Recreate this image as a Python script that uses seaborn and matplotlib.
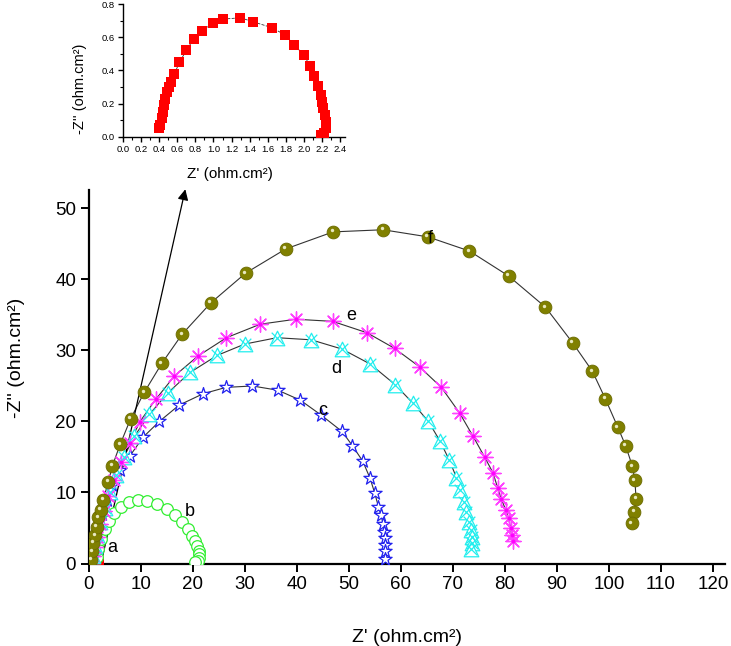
import matplotlib
matplotlib.use("Agg")
import matplotlib.pyplot as plt
from matplotlib.transforms import offset_copy
import seaborn as sns

# Nyquist data, Z' and -Z'' in ohm.cm2
a_x = [0.40, 0.41, 0.43, 0.44, 0.456, 0.47, 0.486, 0.51, 0.53, 0.57, 0.625, 0.70, 0.78,
       0.873, 0.99, 1.11, 1.296, 1.436, 1.646, 1.79, 1.89, 2.0, 2.06, 2.11, 2.15, 2.18,
       2.20, 2.21, 2.23, 2.235, 2.235, 2.22, 2.19]
a_y = [0.05, 0.07, 0.11, 0.15, 0.19, 0.23, 0.27, 0.30, 0.33, 0.38, 0.448, 0.52, 0.587,
       0.637, 0.683, 0.709, 0.717, 0.693, 0.657, 0.613, 0.552, 0.492, 0.428, 0.366, 0.305,
       0.251, 0.211, 0.17, 0.131, 0.09, 0.05, 0.02, 0.01]

b_x = [1.6, 1.9, 2.4, 3.1, 3.9, 4.9, 6.2, 7.8, 9.6, 11.3, 13.2, 15.0, 16.6, 17.9, 19.1,
       19.9, 20.5, 20.9, 21.2, 21.3, 21.3, 21.1, 20.5]
b_y = [0.9, 2.1, 3.5, 4.8, 6.0, 7.1, 8.0, 8.6, 8.9, 8.8, 8.4, 7.7, 6.8, 5.8, 4.8, 3.9,
       3.1, 2.4, 1.8, 1.3, 0.8, 0.4, 0.2]

c_x = [0.6, 0.9, 1.3, 1.9, 2.6, 3.5, 4.6, 6.1, 7.9, 10.5, 13.6, 17.4, 22.0, 26.4, 31.5,
       36.4, 40.7, 44.7, 48.7, 50.7, 52.7, 54.1, 55.0, 55.7, 56.2, 56.6, 56.8, 57.0, 57.0,
       57.0, 56.9]
c_y = [0.8, 2.1, 3.6, 5.2, 7.0, 9.0, 11.0, 13.2, 15.1, 17.8, 20.0, 22.3, 23.9, 24.8, 25.0,
       24.4, 23.0, 20.9, 18.6, 16.6, 14.4, 12.0, 9.9, 8.0, 6.8, 5.6, 4.5, 3.6, 2.6, 1.7, 0.7]

d_x = [0.9, 1.2, 1.7, 2.3, 3.1, 4.1, 5.3, 6.8, 8.8, 11.7, 15.2, 19.5, 24.7, 30.0, 36.2,
       42.8, 48.7, 54.1, 58.9, 62.3, 65.3, 67.5, 69.3, 70.7, 71.4, 72.1, 72.6, 73.1, 73.5,
       73.7, 73.7, 73.5]
d_y = [1.1, 2.4, 4.0, 5.8, 7.8, 10.0, 12.4, 15.0, 17.9, 21.0, 24.0, 26.9, 29.3, 30.9, 31.8,
       31.5, 30.2, 28.1, 25.2, 22.6, 20.0, 17.3, 14.6, 12.1, 10.4, 8.7, 7.3, 5.9, 4.7, 3.8,
       2.9, 2.1]

e_x = [0.9, 1.2, 1.6, 2.2, 2.9, 3.8, 4.9, 6.2, 7.9, 9.8, 12.9, 16.5, 21.0, 26.5, 33.0,
       39.8, 46.9, 53.5, 58.8, 63.6, 67.8, 71.3, 73.9, 76.1, 77.7, 78.6, 79.3, 80.2, 80.7,
       81.1, 81.3, 81.6]
e_y = [1.0, 2.3, 3.8, 5.5, 7.4, 9.5, 11.8, 14.3, 16.9, 19.9, 23.1, 26.4, 29.2, 31.8, 33.7,
       34.4, 34.1, 32.5, 30.3, 27.7, 24.8, 21.2, 17.9, 15.0, 12.8, 10.7, 9.1, 7.5, 6.4, 5.0,
       4.0, 3.2]

f_x = [0.48, 0.67, 0.92, 1.25, 1.58, 1.88, 2.35, 2.85, 3.8, 4.6, 6.1, 8.1, 10.7, 14.1,
       18.0, 23.5, 30.2, 37.9, 47.0, 56.6, 65.2, 73.2, 80.7, 87.8, 93.0, 96.8, 99.3, 101.7,
       103.2, 104.5, 105.0, 105.2, 104.9, 104.4]
f_y = [0.5, 1.7, 2.9, 4.0, 5.2, 6.5, 7.6, 9.0, 11.5, 13.8, 16.8, 20.4, 24.1, 28.2, 32.3,
       36.7, 40.9, 44.3, 46.7, 47.0, 46.0, 44.0, 40.5, 36.1, 31.1, 27.1, 23.2, 19.2, 16.6,
       13.7, 11.7, 9.1, 7.3, 5.7]

curve_labels = ["a", "b", "c", "d", "e", "f"]
label_pos = [(4.5, 2.2), (19.5, 7.3), (45.1, 21.6), (47.6, 27.5), (50.5, 34.9), (65.7, 45.8)]

LINE = "#333333"


def draw_line(ax, x, y, lw=0.8, ls="-"):
    sns.lineplot(x=x, y=y, sort=False, estimator=None, color=LINE, lw=lw,
                 linestyle=ls, ax=ax, zorder=1)


def main() -> None:
    sns.set_style("ticks")
    plt.rcParams["font.family"] = ["Liberation Sans", "DejaVu Sans"]
    plt.rcParams.update({
        "axes.edgecolor": "black",
        "xtick.color": "black",
        "ytick.color": "black",
        "text.color": "black",
        "axes.labelcolor": "black",
    })

    fig = plt.figure(figsize=(7.31, 6.46), dpi=100)
    ax = fig.add_axes([0.1211, 0.1277, 0.8707, 0.5782])

    for x, y in [(b_x, b_y), (c_x, c_y), (d_x, d_y), (e_x, e_y), (f_x, f_y)]:
        draw_line(ax, x, y)

    sns.scatterplot(x=a_x, y=a_y, marker="s", s=30, color="#ff0000", linewidth=0,
                    ax=ax, zorder=3)
    sns.scatterplot(x=b_x, y=b_y, marker="o", s=70, facecolor="white",
                    edgecolor="#33ee33", linewidth=0.9, ax=ax, zorder=3)
    sns.scatterplot(x=c_x, y=c_y, marker="*", s=100, facecolor="white",
                    edgecolor="#2222ee", linewidth=0.9, ax=ax, zorder=3)
    sns.scatterplot(x=d_x, y=d_y, marker="^", s=110, facecolor="white",
                    edgecolor="#22eeee", linewidth=0.9, ax=ax, zorder=3)
    sns.scatterplot(x=d_x, y=d_y, marker="x", s=70, color="#22eeee",
                    linewidth=0.9, ax=ax, zorder=4)
    sns.scatterplot(x=e_x, y=e_y, marker=(8, 2, 0), s=120, color="#ff44ff",
                    linewidth=1.0, ax=ax, zorder=3)
    sns.scatterplot(x=e_x, y=e_y, marker="o", s=8, color="#ff00ff",
                    linewidth=0, ax=ax, zorder=4)
    sns.scatterplot(x=f_x, y=f_y, marker="o", s=85, color="#808000",
                    edgecolor="#6b6b00", linewidth=0.6, ax=ax, zorder=5)
    shine = offset_copy(ax.transData, fig=fig, x=-1.5, y=1.5, units="dots")
    ax.scatter(f_x, f_y, marker="o", s=6, color="#e8e8c0", linewidth=0,
               transform=shine, zorder=6)

    for lab, (lx, ly) in zip(curve_labels, label_pos):
        ax.text(lx, ly, lab, fontsize=13, ha="center", va="center", zorder=7)

    ax.annotate("", xy=(18.6, 52.7), xytext=(2.4, 0.0),
                arrowprops=dict(arrowstyle="-|>", color="black", lw=0.9,
                                mutation_scale=16, shrinkA=0, shrinkB=0),
                annotation_clip=False, zorder=2)

    ax.set_xlim(0, 122.3)
    ax.set_ylim(0, 52.6)
    ax.set_xticks(range(0, 121, 10))
    ax.set_yticks(range(0, 51, 10))
    ax.tick_params(direction="out", length=6, width=1.4, labelsize=13.5, pad=3)
    for side in ["left", "bottom"]:
        ax.spines[side].set_linewidth(1.6)
    sns.despine(ax=ax)
    ax.set_xlabel("Z' (ohm.cm²)", fontsize=14)
    ax.set_ylabel("-Z'' (ohm.cm²)", fontsize=14)
    ax.xaxis.set_label_coords(0.5, -0.175)
    ax.yaxis.set_label_coords(-0.1, 0.55)

    # inset with curve a
    ins = fig.add_axes([0.1679, 0.7884, 0.3041, 0.2054])
    draw_line(ins, a_x, a_y, lw=0.6, ls="--")
    sns.scatterplot(x=a_x, y=a_y, marker="s", s=45, color="#ff0000", linewidth=0,
                    ax=ins, zorder=3)
    ins.set_xlim(0, 2.45)
    ins.set_ylim(0, 0.8)
    ins.set_xticks([i * 0.2 for i in range(13)])
    ins.set_xticklabels([f"{i * 0.2:.1f}" for i in range(13)])
    ins.set_yticks([i * 0.2 for i in range(5)])
    ins.set_yticklabels([f"{i * 0.2:.1f}" for i in range(5)])
    ins.set_xticks([0.1 + i * 0.2 for i in range(12)], minor=True)
    ins.set_yticks([0.1 + i * 0.2 for i in range(4)], minor=True)
    ins.tick_params(which="major", direction="out", length=3.5, width=1.0,
                    labelsize=6.8, pad=2.5)
    ins.tick_params(which="minor", direction="out", length=2, width=0.8)
    for side in ["left", "bottom"]:
        ins.spines[side].set_linewidth(1.0)
    sns.despine(ax=ins)
    ins.set_xlabel("Z' (ohm.cm²)", fontsize=11)
    ins.set_ylabel("-Z'' (ohm.cm²)", fontsize=10.5)
    ins.xaxis.set_label_coords(0.48, -0.225)
    ins.yaxis.set_label_coords(-0.16, 0.36)

    fig.savefig("out.png", dpi=100)


if __name__ == "__main__":
    main()
